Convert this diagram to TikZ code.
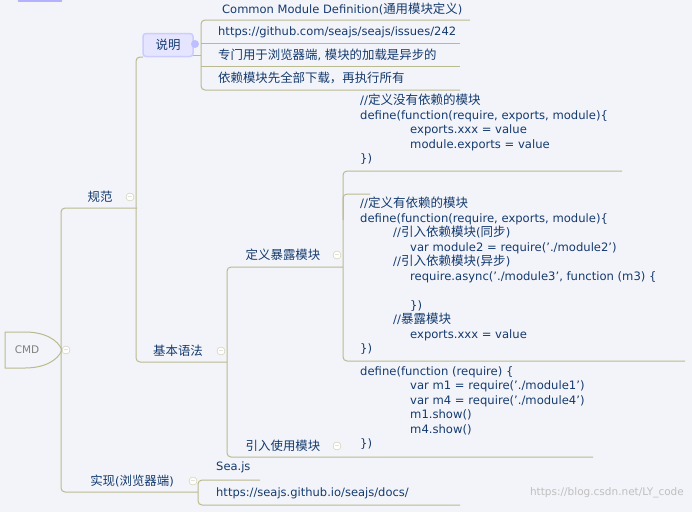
\documentclass[tikz,border=0pt]{standalone}
\usepackage{fontspec}
\setmainfont{DejaVu Sans}
\newfontfamily\cjk{Noto Sans CJK SC}[Scale=1.08]
\newcommand{\C}[1]{{\cjk #1}}
\newcommand{\q}{\char39\relax}
\begin{document}
\begin{tikzpicture}[x=1pt,y=-1pt,
  br/.style={draw=lineC,line width=1pt,rounded corners=4pt},
  lbl/.style={text=txtC,font=\fontsize{11.5}{12}\selectfont,inner sep=0pt},
  code/.style={text=txtC,font=\fontsize{11.6}{14.5}\selectfont,align=left,inner sep=0pt,anchor=north west},
  tog/.style={circle,draw=lineC!80,fill=white,minimum size=8pt,inner sep=0pt,font=\fontsize{6}{6}\selectfont,text=lineC!90!black}]
\definecolor{lineC}{HTML}{B9BA8E}
\definecolor{txtC}{HTML}{143A6E}
\definecolor{bgC}{HTML}{F3F4F9}
\fill[bgC] (0,0) rectangle (692,512);
\useasboundingbox (0,0) rectangle (692,512);
\fill[blue!30] (18,0) rectangle (62,2);
% root
\draw[lineC,line width=1pt,fill=bgC] (5,332) -- (25,332) .. controls (45,332) and (58,340) .. (62,350) .. controls (58,360) and (45,368) .. (25,368) -- (5,368) -- cycle;
\node[text=gray,font=\fontsize{10.5}{11}\selectfont] (cmd) at (27,350) {CMD};
\node[tog] (t0) at (66,350) {$-$};
% trunk
\draw[br] (137,208) -- (61,208) -- (61,492) -- (198,492);
\node[lbl] (gf) at (100,197) {\C{规范}};
\node[tog] (t1) at (130,197) {$-$};
\node[lbl] (sx) at (132,481) {\C{实现}(\C{浏览器端})};
\node[tog] (t2) at (193,481) {$-$};
% 规范 children
\draw[br] (143,57) -- (136,57) -- (136,362) -- (227,362);
\node[lbl] (jb) at (178,351) {\C{基本语法}};
\node[tog] (t3) at (221,351) {$-$};
\node[draw=blue!20,line width=1.5pt,fill=blue!10,rounded corners=3pt,minimum width=50pt,minimum height=23pt,text=txtC,font=\fontsize{11.5}{12}\selectfont] (sm) at (168,45) {\C{说明}};
\fill[blue!25] (195,44) circle (4pt);
% 说明 children
\draw[br] (470,20) -- (201,20) -- (201,90) -- (460,90);
\draw[lineC,line width=1pt] (201,43) -- (460,43) (201,66) -- (460,66) (193,55)--(201,55);
\node[lbl,anchor=west] (c1) at (222,9) {Common Module Definition(\C{通用模块定义})};
\node[lbl,anchor=west] (c2) at (218,32) {https://github.com/seajs/seajs/issues/242};
\node[lbl,anchor=west] (c3) at (218,55) {\C{专门用于浏览器端}, \C{模块的加载是异步的}};
\node[lbl,anchor=west] (c4) at (218,78) {\C{依赖模块先全部下载，再执行所有}};
% 基本语法 children
\draw[br] (343,267) -- (227,267) -- (227,457) -- (593,457);
\node[lbl] (dy) at (283,255) {\C{定义暴露模块}};
\node[tog] (t4) at (337,255) {$-$};
\node[lbl] (yr) at (283,446) {\C{引入使用模块}};
\node[tog] (t5) at (337,446) {$-$};
% 定义暴露模块 children
\draw[br] (622,171) -- (343,171) -- (343,361) -- (685,361);
\draw[br] (370,194) -- (343,194) -- (343,220);
\node[code] (k1) at (360,94) {//\C{定义没有依赖的模块}\\define(function(require, exports, module)\{\\\hspace*{50pt}exports.xxx = value\\\hspace*{50pt}module.exports = value\\\})};
\node[code] (k2) at (360,197) {//\C{定义有依赖的模块}\\define(function(require, exports, module)\{\\\hspace*{33pt}//\C{引入依赖模块}(\C{同步})\\\hspace*{50pt}var module2 = require(\q./module2\q)\\\hspace*{33pt}//\C{引入依赖模块}(\C{异步})\\\hspace*{50pt}require.async(\q./module3\q, function (m3) \{\\[14.5pt]\hspace*{50pt}\})\\\hspace*{33pt}//\C{暴露模块}\\\hspace*{50pt}exports.xxx = value\\\})};
\node[code] (k3) at (360,366) {define(function (require) \{\\\hspace*{50pt}var m1 = require(\q./module1\q)\\\hspace*{50pt}var m4 = require(\q./module4\q)\\\hspace*{50pt}m1.show()\\\hspace*{50pt}m4.show()\\\})};
% 实现 children
\draw[br] (260,480) -- (198,480) -- (198,505) -- (460,505);
\node[lbl,anchor=west] (s1) at (216,467) {Sea.js};
\node[lbl,anchor=west] (s2) at (216,493) {https://seajs.github.io/seajs/docs/};
\node[text=gray!50,font=\fontsize{10.5}{10}\selectfont,anchor=east,inner sep=0pt] (wm) at (684,493) {https://blog.csdn.net/LY\_code};
\end{tikzpicture}
\end{document}
